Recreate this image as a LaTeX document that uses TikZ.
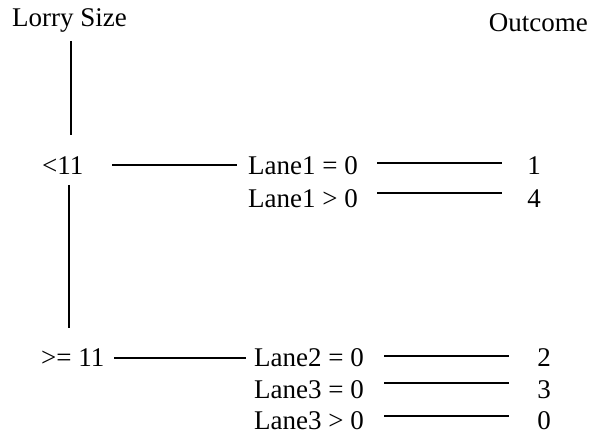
\documentclass[tikz,border=0pt]{standalone}
\usepackage{fontspec}
\setmainfont{Liberation Serif}
\begin{document}
\begin{tikzpicture}[x=1pt,y=-1pt,
  lbl/.style={inner sep=0pt,text depth=0pt,anchor=base west,font=\fontsize{27}{32}\selectfont},
  num/.style={inner sep=0pt,text depth=0pt,anchor=base,font=\fontsize{27}{32}\selectfont},
  conn/.style={line width=2pt}]
\useasboundingbox (0,0) rectangle (592,435);
% headings
\node[lbl] (lorry) at (12,27) {Lorry Size};
\node[lbl,anchor=base east] (outcome) at (588,32) {Outcome};
% level 1
\node[lbl] (lt) at (42,175) {<11};
\node[lbl] (ge) at (41,367) {>= 11};
% level 2
\node[lbl] (l1a) at (248,175) {Lane1 = 0};
\node[lbl] (l1b) at (248,208) {Lane1 > 0};
\node[lbl] (l2a) at (254,367) {Lane2 = 0};
\node[lbl] (l3a) at (254,399) {Lane3 = 0};
\node[lbl] (l3b) at (254,430) {Lane3 > 0};
% outcomes
\node[num] (o1) at (534,175) {1};
\node[num] (o4) at (534,208) {4};
\node[num] (o2) at (544,367) {2};
\node[num] (o3) at (544,399) {3};
\node[num] (o0) at (544,430) {0};
% connector ends
\coordinate (v1a) at (71,41);  \coordinate (v1b) at (71,135);
\coordinate (v2a) at (69,185); \coordinate (v2b) at (69,328);
\coordinate (h1a) at (112,165); \coordinate (h1b) at (237,165);
\coordinate (h2a) at (114,358); \coordinate (h2b) at (246,358);
\coordinate (p1a) at (377,163); \coordinate (p1b) at (502,163);
\coordinate (p4a) at (377,193); \coordinate (p4b) at (502,193);
\coordinate (p2a) at (384,356); \coordinate (p2b) at (509,356);
\coordinate (p3a) at (384,383); \coordinate (p3b) at (509,383);
\coordinate (p0a) at (384,416); \coordinate (p0b) at (509,416);
\draw[conn] (v1a) -- (v1b);
\draw[conn] (v2a) -- (v2b);
\draw[conn] (h1a) -- (h1b);
\draw[conn] (h2a) -- (h2b);
\draw[conn] (p1a) -- (p1b);
\draw[conn] (p4a) -- (p4b);
\draw[conn] (p2a) -- (p2b);
\draw[conn] (p3a) -- (p3b);
\draw[conn] (p0a) -- (p0b);
\end{tikzpicture}
\end{document}
